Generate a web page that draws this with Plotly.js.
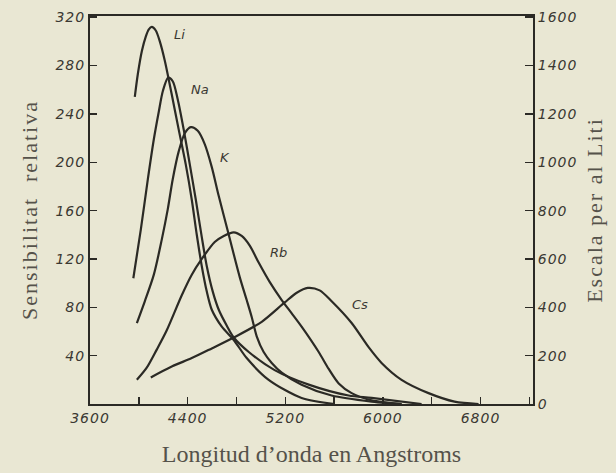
<!DOCTYPE html>
<html>
<head>
<meta charset="utf-8">
<script src="https://cdn.plot.ly/plotly-3.0.1.min.js"></script>
<style>
  html, body { margin: 0; padding: 0; background: #e9e7d3; }
  #chart { width: 616px; height: 473px; }
  .ytitle, .y2title { letter-spacing: 2px; }
  .xtick text, .ytick text, .y2tick text { letter-spacing: 1px; }
</style>
</head>
<body>
<div id="chart"></div>
<script>
// Wavelength (Angstrom) / relative sensitivity
const liWave = [3967, 3992, 4025, 4057, 4082, 4106, 4139, 4172, 4213, 4270, 4327, 4385, 4434, 4475, 4516, 4557, 4598, 4680, 4778, 4884, 5064, 5334, 5605];
// Li values on the right-hand "Escala per al Liti" scale
const liVal  = [1270, 1365, 1460, 1520, 1550, 1560, 1545, 1500, 1420, 1280, 1135, 990, 845, 700, 570, 465, 390, 320, 265, 190, 100, 25, 0];

const naWave = [3955, 4016, 4074, 4123, 4164, 4197, 4241, 4278, 4319, 4368, 4418, 4467, 4516, 4557, 4606, 4655, 4720, 4778, 4901, 5113, 5392, 5719, 5908, 6317];
const naVal  = [104, 144, 186, 219, 242, 259, 270, 267, 252, 227, 198, 169, 138, 114, 93, 78, 65, 55, 43, 28, 16, 7, 5, 0];

const kWave = [3984, 4049, 4123, 4188, 4237, 4278, 4327, 4377, 4426, 4483, 4540, 4598, 4655, 4737, 4827, 4884, 4925, 4966, 5023, 5089, 5171, 5334, 5580, 5908, 6153];
const kVal  = [67, 85, 107, 136, 161, 186, 209, 224, 229, 226, 215, 196, 172, 140, 105, 86, 72, 56, 43, 34, 26, 16, 7, 2, 0];

const rbWave = [3984, 4065, 4147, 4229, 4352, 4434, 4516, 4622, 4696, 4778, 4843, 4909, 4982, 5072, 5171, 5253, 5334, 5474, 5556, 5638, 5744, 5908, 6153];
const rbVal  = [20, 30, 45, 61, 90, 107, 120, 134, 139, 142, 139, 131, 117, 101, 86, 75, 64, 43, 29, 17, 9, 3, 0];

const csWave = [4098, 4270, 4434, 4598, 4778, 5007, 5195, 5294, 5384, 5482, 5580, 5744, 5883, 5989, 6153, 6374, 6587, 6784];
const csVal  = [22, 31, 38, 46, 55, 68, 84, 92, 96, 94, 85, 67, 47, 34, 20, 9, 2, 0];

const curveNames = ["Li", "Na", "K", "Rb", "Cs"];
const labelWave  = [4336, 4499, 4704, 5146, 5809];
const labelVal   = [306, 260, 204, 125, 82];

const xTickVals  = [3600, 4000, 4400, 4800, 5200, 5600, 6000, 6400, 6800, 7200];
const xTickText  = ["3600", "", "4400", "", "5200", "", "6000", "", "6800", ""];
const yTickVals  = [40, 80, 120, 160, 200, 240, 280, 320];
const y2TickVals = [0, 200, 400, 600, 800, 1000, 1200, 1400, 1600];

const ink = "#2b2a25";
const lineStyle = {color: ink, width: 2.2, shape: "spline", smoothing: 0.8};

function tr(x, y, name, axis) {
  return {x: x, y: y, name: name, type: "scatter", mode: "lines", line: lineStyle,
          yaxis: axis || "y", hoverinfo: "skip", showlegend: false};
}

const data = [
  tr(liWave, liVal, "Li", "y2"),
  tr(naWave, naVal, "Na"),
  tr(kWave, kVal, "K"),
  tr(rbWave, rbVal, "Rb"),
  tr(csWave, csVal, "Cs")
];

const tickFont = {family: "DejaVu Sans", size: 14, style: "italic", color: "#3a3832"};
const titleFont = {family: "Liberation Serif", size: 22, color: "#55524a"};

const annotations = curveNames.map((n, i) => ({
  x: labelWave[i], y: labelVal[i], xref: "x", yref: "y", text: n, showarrow: false,
  font: {family: "DejaVu Sans", size: 13, style: "italic", color: "#3a3832"}
}));

const layout = {
  width: 616, height: 473,
  margin: {l: 90, r: 83, t: 16, b: 69},
  paper_bgcolor: "#e9e7d3",
  plot_bgcolor: "#e9e7d3",
  showlegend: false,
  xaxis: {
    range: [3600, 7230], tickvals: xTickVals, ticktext: xTickText,
    ticks: "inside", ticklen: 7, tickwidth: 1.5, tickcolor: ink,
    showline: true, linecolor: ink, linewidth: 2, mirror: true,
    showgrid: false, zeroline: false, tickfont: tickFont,
    title: {text: "Longitud d\u2019onda en Angstroms", font: Object.assign({}, titleFont, {size: 24}), standoff: 20}
  },
  yaxis: {
    range: [0, 321], tickvals: yTickVals,
    ticks: "inside", ticklen: 7, tickwidth: 1.5, tickcolor: ink,
    showline: true, linecolor: ink, linewidth: 2,
    showgrid: false, zeroline: false, tickfont: tickFont,
    title: {text: "Sensibilitat  relativa", font: titleFont, standoff: 12}
  },
  yaxis2: {
    range: [0, 1605], tickvals: y2TickVals, overlaying: "y", side: "right",
    ticks: "inside", ticklen: 8, tickwidth: 1.5, tickcolor: ink,
    showline: true, linecolor: ink, linewidth: 2,
    showgrid: false, zeroline: false, tickfont: tickFont,
    title: {text: "Escala per al Liti", font: titleFont, standoff: 10}
  },
  annotations: annotations
};

Plotly.newPlot("chart", data, layout, {staticPlot: true, displayModeBar: false});
</script>
</body>
</html>
